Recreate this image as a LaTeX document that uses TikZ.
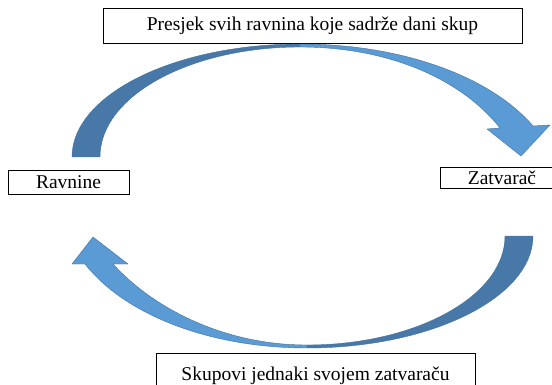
\documentclass[tikz,border=0pt]{standalone}
\usepackage{fontspec}
\setmainfont{Liberation Serif}
\usetikzlibrary{positioning}
\definecolor{banddark}{RGB}{71,120,168}
\definecolor{bandlight}{RGB}{91,155,213}
\definecolor{bandedge}{RGB}{65,113,156}

\begin{document}
\begin{tikzpicture}[x=1pt,y=-1pt,
    labelbox/.style={draw, line width=0.8pt, inner sep=0pt, font=\fontsize{19.5}{23}\selectfont},
    band/.style={draw=bandedge, line width=0.4pt, line join=round}]
    \clip (0,0) rectangle (552,385);
    % boxes
    \node[labelbox, minimum width=419, minimum height=35] (presjek) at (312.5,25.5) {Presjek svih ravnina koje sadrže dani skup};
    \node[labelbox, minimum width=121, minimum height=24] (ravnine) at (68.5,182) {Ravnine};
    \node[labelbox, minimum width=124, minimum height=21] (zatvarac) at (502,177.5) {Zatvarač};
    \node[labelbox, minimum width=319, minimum height=46] (skupovi) at (315.5,376) {Skupovi jednaki svojem zatvaraču};
    % upper arrow: back side (dark), from the foot to the top
    \draw[band, fill=banddark] (72,157) .. controls (72,95) and (174,44) .. (300,44)
        -- (300,47) .. controls (190,47) and (100,96) .. (100,157) -- cycle;
    % upper arrow: front side (light), with its head
    \draw[band, fill=bandlight] (300,44) .. controls (405,44) and (492,78) .. (533,126)
        -- (550,125) -- (521,156) -- (487,129) -- (500,128)
        .. controls (462,80) and (390,47) .. (300,47) -- cycle;
    % lower arrow: back side (dark), from the foot to the bottom
    \draw[band, fill=banddark] (533,236) .. controls (533,297) and (432,348) .. (307,348)
        -- (307,345) .. controls (416,345) and (505,296) .. (505,236) -- cycle;
    % lower arrow: front side (light), with its head
    \draw[band, fill=bandlight] (307,348) .. controls (210,348) and (125,315) .. (85,264)
        -- (72,264) -- (93,237) -- (128,264) -- (113,264)
        .. controls (150,305) and (220,345) .. (307,345) -- cycle;
\end{tikzpicture}
\end{document}
